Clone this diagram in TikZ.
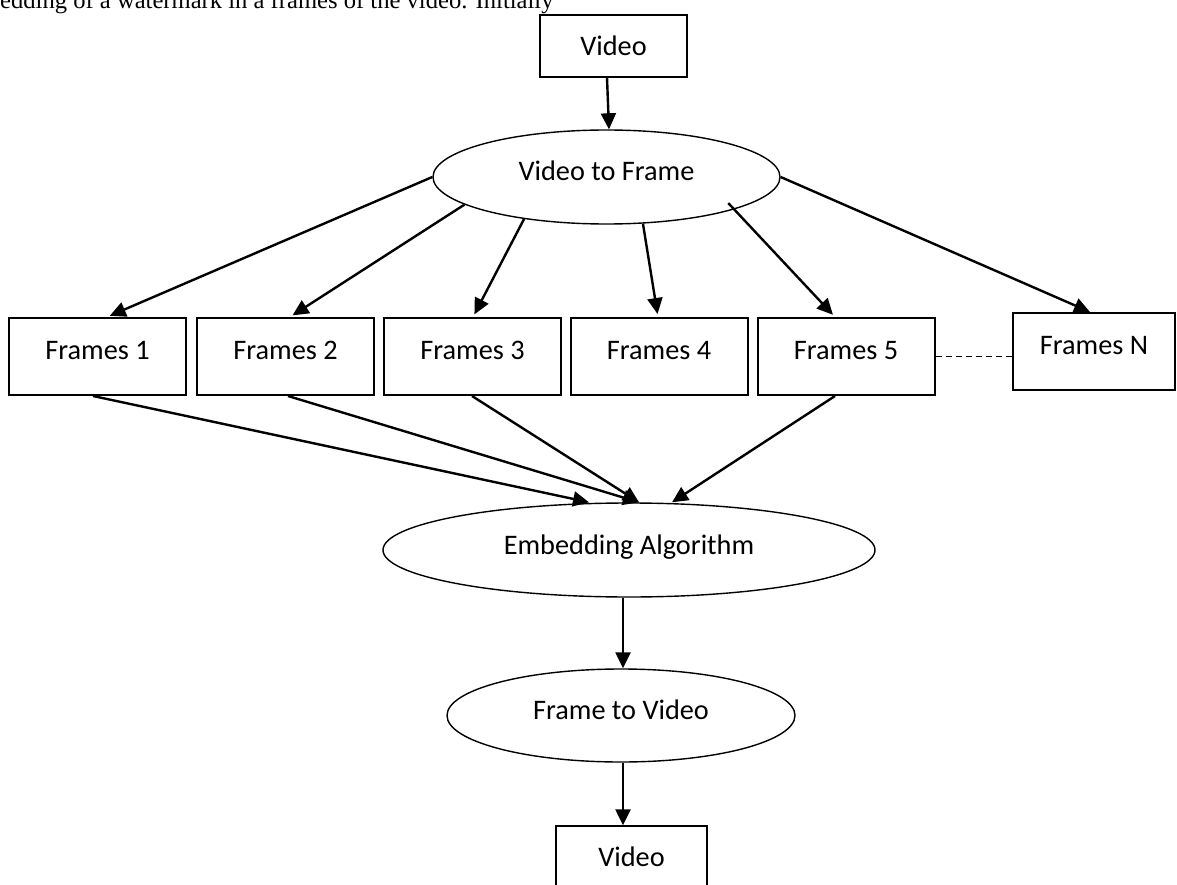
\documentclass[tikz,border=0pt]{standalone}
\usepackage{fontspec}
\setmainfont{Carlito}
\newfontfamily\papertext{Liberation Serif}
\usetikzlibrary{arrows.meta,shapes.geometric}
\newcommand\calsize{\fontsize{28.3}{34}\selectfont}
\tikzset{
  >={Triangle[length=16pt,width=15pt]},
  box/.style={draw,line width=2pt,inner sep=0pt,minimum width=177pt,minimum height=77pt,
    text height=20pt,text depth=15pt,font=\calsize},
  vbox/.style={draw,line width=1.4pt,inner sep=0pt,minimum width=147pt,minimum height=62pt,font=\calsize},
  oval/.style={ellipse,draw,line width=1.4pt,inner sep=0pt,text height=20pt,text depth=12pt,font=\calsize},
  flow/.style={->,line width=2.4pt},
  gap/.style={line width=1.5pt,dash pattern=on 6pt off 4pt},
}
\begin{document}
\begin{tikzpicture}[x=1pt,y=-1pt]
  \useasboundingbox (0,0) rectangle (1177,885);
  \node[anchor=base west,inner sep=0pt,font=\papertext\fontsize{24.6}{30}\selectfont] (cap) at (0,9)
    {edding of a watermark in a frames of the video. Initially};
  % source and splitting
  \node[vbox] (vin) at (613.5,46) {Video};
  \node[oval,minimum width=347pt,minimum height=94pt] (vtf) at (606.5,177) {Video to Frame};
  \foreach \i/\x in {1/97.5,2/285.5,3/472.5,4/659,5/846}
    \node[box] (f\i) at (\x,356.5) {Frames \i};
  \node[box,minimum width=162pt] (fn) at (1094,351.5) {Frames N};
  % embedding and rebuilding
  \node[oval,minimum width=492pt,minimum height=94pt] (emb) at (629,550) {Embedding Algorithm};
  \node[oval,minimum width=348pt,minimum height=93pt] (ftv) at (621,715.5) {Frame to Video};
  \node[vbox,minimum width=151pt] (vout) at (631.5,857) {Video};

  \draw[flow] ([xshift=-6.5pt]vin.south) -- ([xshift=2.5pt]vtf.north);
  \foreach \a/\n/\s in {180/f1/9.5,191/f2/4.5,207/f3/0.5,308/f4/-1}
    \draw[flow,shorten >=3pt] (vtf.\a) -- ([xshift=\s pt]\n.north);
  \draw[flow,shorten >=3pt] ([shift={(-7,-6)}]vtf.346) -- ([xshift=-11pt]f5.north);
  \draw[flow] (vtf.0) -- ([xshift=-4pt]fn.north);
  \draw[gap] (f5.east) -- (f5.east -| fn.west);
  \foreach \n/\s/\t in {f1/-4.5/-40,f2/2.5/10,f3/-0.5/10,f5/-11/43}
    \draw[flow] ([xshift=\s pt]\n.south) -- ([xshift=\t pt]emb.north);
  \draw[flow] ([xshift=2pt]ftv.north |- emb.south) -- ([xshift=2pt]ftv.north);
  \draw[flow] ([xshift=2pt]ftv.south) -- ([xshift=2pt]ftv.south |- vout.north);
\end{tikzpicture}
\end{document}
